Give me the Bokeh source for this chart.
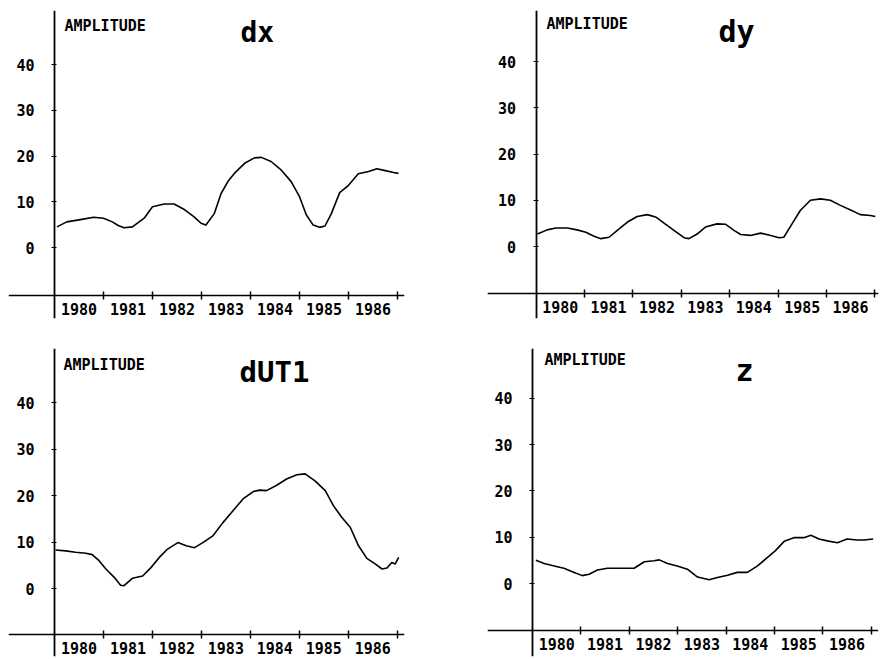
from bokeh.plotting import figure
from bokeh.layouts import column, row
from bokeh.models import FixedTicker, Label
from bokeh.embed import file_html
from bokeh.resources import INLINE

# Amplitude series (decimal year, amplitude) for each component
dx_year = [1980.05, 1980.25, 1980.53, 1980.80, 1981.00, 1981.18, 1981.30, 1981.42, 1981.59,
           1981.83, 1982.00, 1982.24, 1982.44, 1982.65, 1982.85, 1982.99, 1983.09,
           1983.26, 1983.40, 1983.55, 1983.67, 1983.88, 1984.08, 1984.22, 1984.42, 1984.63,
           1984.83, 1985.00, 1985.14, 1985.28, 1985.41, 1985.52, 1985.65, 1985.82,
           1986.00, 1986.20, 1986.41, 1986.58, 1986.75, 1986.92, 1987.02]
dx_amp = [4.5, 5.6, 6.1, 6.6, 6.4, 5.6, 4.8, 4.3, 4.5,
          6.4, 8.9, 9.5, 9.5, 8.3, 6.7, 5.3, 4.9,
          7.4, 11.8, 14.6, 16.2, 18.4, 19.6, 19.7, 18.8, 16.9,
          14.4, 11.1, 7.1, 4.9, 4.4, 4.7, 7.4, 12.0,
          13.6, 16.1, 16.6, 17.2, 16.8, 16.4, 16.2]

dy_year = [1980.03, 1980.23, 1980.41, 1980.65, 1980.85, 1981.03, 1981.20, 1981.34,
           1981.51, 1981.68, 1981.89, 1982.09, 1982.30, 1982.47, 1982.64, 1982.85,
           1983.06, 1983.16, 1983.33, 1983.50, 1983.74, 1983.92, 1984.09, 1984.23,
           1984.43, 1984.64, 1984.85, 1985.02, 1985.12, 1985.29, 1985.46, 1985.67,
           1985.88, 1986.08, 1986.29, 1986.50, 1986.70, 1986.91, 1987.01]
dy_amp = [2.7, 3.6, 4.0, 4.0, 3.6, 3.1, 2.2, 1.7,
          2.0, 3.5, 5.3, 6.5, 6.9, 6.4, 5.1, 3.5,
          1.9, 1.7, 2.7, 4.2, 4.9, 4.8, 3.5, 2.6,
          2.4, 2.9, 2.4, 1.9, 2.0, 4.9, 7.8, 10.0,
          10.3, 10.0, 8.9, 7.9, 6.9, 6.7, 6.5]

dut1_year = [1980.02, 1980.23, 1980.43, 1980.64, 1980.77, 1980.91, 1981.05, 1981.22,
             1981.35, 1981.42, 1981.59, 1981.80, 1981.97, 1982.14, 1982.31, 1982.52,
             1982.69, 1982.86, 1983.03, 1983.24, 1983.44, 1983.65, 1983.85, 1984.06,
             1984.19, 1984.33, 1984.53, 1984.74, 1984.95, 1985.12, 1985.32, 1985.53,
             1985.70, 1985.87, 1986.04, 1986.21, 1986.38, 1986.55, 1986.69, 1986.79,
             1986.89, 1986.96, 1987.03]
dut1_amp = [8.3, 8.1, 7.8, 7.6, 7.3, 6.0, 4.2, 2.4,
            0.7, 0.6, 2.2, 2.7, 4.5, 6.7, 8.5, 9.9,
            9.2, 8.8, 9.9, 11.4, 14.2, 16.8, 19.3, 20.9,
            21.2, 21.1, 22.2, 23.6, 24.5, 24.7, 23.2, 21.1,
            17.8, 15.3, 13.2, 9.2, 6.5, 5.3, 4.2, 4.4,
            5.6, 5.3, 6.7]

z_year = [1980.07, 1980.24, 1980.45, 1980.65, 1980.86, 1981.03, 1981.17, 1981.34,
          1981.55, 1981.82, 1982.10, 1982.31, 1982.51, 1982.62, 1982.79, 1982.99,
          1983.20, 1983.41, 1983.65, 1983.82, 1984.03, 1984.23, 1984.44, 1984.65,
          1984.85, 1985.02, 1985.20, 1985.40, 1985.61, 1985.75, 1985.92, 1986.09,
          1986.30, 1986.50, 1986.71, 1986.85, 1987.04]
z_amp = [5.0, 4.3, 3.8, 3.3, 2.4, 1.7, 2.0, 2.9,
         3.3, 3.3, 3.3, 4.7, 4.9, 5.1, 4.3, 3.8,
         3.1, 1.4, 0.8, 1.3, 1.8, 2.4, 2.4, 3.8,
         5.6, 7.1, 9.1, 9.9, 9.9, 10.4, 9.6, 9.2,
         8.8, 9.6, 9.4, 9.4, 9.6]

year_labels = ["1980", "1981", "1982", "1983", "1984", "1985", "1986"]
amp_ticks = [0, 10, 20, 30, 40]

FONT = "DejaVu Sans Mono"

# Frames share edges along each row and column of the grid (pixels inside a cell)
ROW_TOP = [10, 18]
ROW_BOTTOM = [318, 326]
COL_LEFT = [8, 47]
COL_RIGHT = [404, 438]

# Per-panel geometry: axis crossing, zero line and the scale of each axis
panels = [
    dict(title="dx", year=dx_year, amp=dx_amp, w=440, h=330, r=0, c=0, tsize="28px",
         ax=54, ppy=49.0, zero=247, ppu=4.575, hy=295,
         tx=240, ty=32, ax_lbl=64, ay_lbl=25),
    dict(title="dy", year=dy_year, amp=dy_amp, w=440, h=330, r=0, c=1, tsize="30px",
         ax=95.5, ppy=48.4, zero=246, ppu=4.62, hy=293.3,
         tx=278, ty=31, ax_lbl=106, ay_lbl=23),
    dict(title="dUT1", year=dut1_year, amp=dut1_amp, w=440, h=329, r=1, c=0, tsize="29px",
         ax=54, ppy=48.96, zero=258, ppu=4.64, hy=304,
         tx=239, ty=41, ax_lbl=63, ay_lbl=34),
    dict(title="z", year=z_year, amp=z_amp, w=440, h=329, r=1, c=1, tsize="30px",
         ax=92, ppy=48.4, zero=253, ppu=4.63, hy=300,
         tx=295, ty=40, ax_lbl=104, ay_lbl=29),
]


def make_panel(c):
    fl, fr = COL_LEFT[c["c"]], COL_RIGHT[c["c"]]
    ft, fb = ROW_TOP[c["r"]], ROW_BOTTOM[c["r"]]
    x0 = 1980 - (c["ax"] - fl) / c["ppy"]
    x1 = 1980 + (fr - c["ax"]) / c["ppy"]
    y0 = -(fb - c["zero"]) / c["ppu"]
    y1 = (c["zero"] - ft) / c["ppu"]
    p = figure(width=c["w"], height=c["h"], x_range=(x0, x1), y_range=(y0, y1),
               title=None, output_backend="svg", toolbar_location=None,
               min_border_left=fl, min_border_right=c["w"] - fr,
               min_border_top=ft, min_border_bottom=c["h"] - fb)
    p.grid.visible = False
    p.outline_line_color = None
    p.background_fill_color = "white"
    p.border_fill_color = "white"

    # time axis: year labels centred in each year, ticks on year boundaries
    xa = p.xaxis[0]
    xa.fixed_location = -(c["hy"] - c["zero"]) / c["ppu"]
    xa.ticker = FixedTicker(ticks=[1980.5 + i for i in range(len(year_labels))],
                            minor_ticks=[1981 + i for i in range(len(year_labels))])
    xa.major_label_overrides = {1980.5 + i: s for i, s in enumerate(year_labels)}
    xa.major_tick_in = 0
    xa.major_tick_out = 0
    xa.minor_tick_in = 4
    xa.minor_tick_out = 4
    xa.minor_tick_line_width = 1.5
    xa.minor_tick_line_color = "black"
    xa.axis_line_width = 1.6
    xa.axis_line_color = "black"
    xa.major_label_standoff = 3
    xa.major_label_text_font = FONT
    xa.major_label_text_font_style = "bold"
    xa.major_label_text_font_size = "15px"
    xa.major_label_text_color = "black"

    # amplitude axis
    ya = p.yaxis[0]
    ya.fixed_location = 1980
    ya.ticker = FixedTicker(ticks=amp_ticks)
    ya.major_tick_in = 2
    ya.major_tick_out = 3
    ya.minor_tick_in = 0
    ya.minor_tick_out = 0
    ya.major_tick_line_color = "black"
    ya.axis_line_width = 1.8
    ya.axis_line_color = "black"
    ya.major_label_standoff = 17
    ya.major_label_text_font = FONT
    ya.major_label_text_font_style = "bold"
    ya.major_label_text_font_size = "15px"
    ya.major_label_text_color = "black"

    p.line(c["year"], c["amp"], line_color="black", line_width=1.6, line_join="round")

    p.add_layout(Label(x=1980 + (c["ax_lbl"] - c["ax"]) / c["ppy"],
                       y=(c["zero"] - c["ay_lbl"]) / c["ppu"], text="AMPLITUDE",
                       text_font=FONT, text_font_size="15px", text_font_style="bold",
                       text_baseline="middle", text_align="left", text_color="black"))
    p.add_layout(Label(x=1980 + (c["tx"] - c["ax"]) / c["ppy"],
                       y=(c["zero"] - c["ty"]) / c["ppu"], text=c["title"],
                       text_font=FONT, text_font_size=c["tsize"], text_font_style="bold",
                       text_baseline="middle", text_align="left", text_color="black"))
    return p


figs = [make_panel(c) for c in panels]
layout = column(row(figs[0], figs[1], spacing=0), row(figs[2], figs[3], spacing=0), spacing=0)

open("out.html", "w").write(file_html(layout, INLINE))
